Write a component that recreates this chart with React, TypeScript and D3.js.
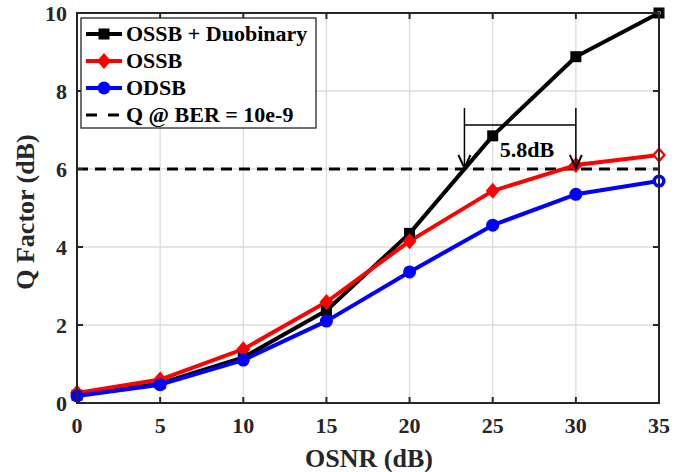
import React, { useEffect, useRef } from 'react';
import * as d3 from 'd3';

const osnr = [0, 5, 10, 15, 20, 25, 30, 35];
const ossbDuo = [0.2, 0.5, 1.17, 2.37, 4.35, 6.85, 8.88, 10.0];
const ossb = [0.26, 0.6, 1.38, 2.59, 4.15, 5.44, 6.1, 6.36];
const odsb = [0.18, 0.47, 1.1, 2.1, 3.36, 4.56, 5.35, 5.69];
const xTicks = [0, 5, 10, 15, 20, 25, 30, 35];
const yTicks = [0, 2, 4, 6, 8, 10];
const qThreshold = 6;
const arrowAt = [23.3, 30];

const series = [
  { name: 'OSSB + Duobinary', values: ossbDuo, color: '#000000', marker: 'square' },
  { name: 'OSSB', values: ossb, color: '#ff0000', marker: 'diamond' },
  { name: 'ODSB', values: odsb, color: '#0000ff', marker: 'circle' },
];

const FONT = '"Liberation Serif", "Times New Roman", serif';

export default function App() {
  const ref = useRef<SVGSVGElement>(null);

  useEffect(() => {
    const svg = d3.select(ref.current);
    svg.selectAll('*').remove();

    const left = 77, right = 659, top = 13, bottom = 403;
    const x = d3.scaleLinear().domain([0, 35]).range([left, right]);
    const y = d3.scaleLinear().domain([0, 10]).range([bottom, top]);

    svg.append('rect').attr('width', 688).attr('height', 472).attr('fill', '#fff');

    // grid
    const grid = svg.append('g').attr('stroke', '#dcdcdc').attr('stroke-width', 1.3);
    xTicks.slice(1, -1).forEach(t => {
      grid.append('line').attr('x1', x(t)).attr('x2', x(t)).attr('y1', top).attr('y2', bottom);
    });
    yTicks.slice(1, -1).forEach(t => {
      grid.append('line').attr('x1', left).attr('x2', right).attr('y1', y(t)).attr('y2', y(t));
    });

    // threshold line
    svg.append('line')
      .attr('x1', left).attr('x2', right)
      .attr('y1', y(qThreshold)).attr('y2', y(qThreshold))
      .attr('stroke', '#000').attr('stroke-width', 3)
      .attr('stroke-dasharray', '11,7');

    // series
    const line = d3.line<number>().x((d, i) => x(osnr[i])).y(d => y(d));
    series.forEach(s => {
      svg.append('path')
        .attr('d', line(s.values))
        .attr('fill', 'none')
        .attr('stroke', s.color)
        .attr('stroke-width', 4)
        .attr('stroke-linejoin', 'round');
    });

    const drawMarker = (g: any, m: string, cx: number, cy: number, color: string, hollow = false) => {
      if (m === 'square') {
        g.append('rect').attr('x', cx - 5.5).attr('y', cy - 5.5).attr('width', 11).attr('height', 11).attr('fill', color);
        if (hollow) g.append('rect').attr('x', cx - 1.5).attr('y', cy - 1.5).attr('width', 3).attr('height', 3).attr('fill', '#fff');
      } else if (m === 'diamond') {
        g.append('path')
          .attr('d', `M${cx},${cy - 8}L${cx + 7},${cy}L${cx},${cy + 8}L${cx - 7},${cy}Z`)
          .attr('fill', color);
        if (hollow) g.append('path')
          .attr('d', `M${cx},${cy - 4.5}L${cx + 4},${cy}L${cx},${cy + 4.5}L${cx - 4},${cy}Z`)
          .attr('fill', '#fff');
      } else {
        g.append('circle').attr('cx', cx).attr('cy', cy).attr('r', 6.5).attr('fill', color);
        if (hollow) g.append('circle').attr('cx', cx).attr('cy', cy).attr('r', 3).attr('fill', '#fff');
      }
    };

    series.forEach(s => {
      s.values.forEach((v, i) =>
        drawMarker(svg, s.marker, x(osnr[i]), y(v), s.color, i === s.values.length - 1));
    });

    // annotation
    const ann = svg.append('g').attr('stroke', '#000').attr('stroke-width', 1.5).attr('fill', 'none');
    const annTop = 108, annBar = 125;
    arrowAt.forEach(a => {
      const ax = x(a);
      ann.append('line').attr('x1', ax).attr('x2', ax).attr('y1', annTop).attr('y2', y(qThreshold) - 1);
      ann.append('path')
        .attr('d', `M${ax - 6},${y(qThreshold) - 14}L${ax},${y(qThreshold) - 1}L${ax + 6},${y(qThreshold) - 14}`)
        .attr('stroke-width', 2);
    });
    ann.append('line').attr('x1', x(arrowAt[0])).attr('x2', x(arrowAt[1])).attr('y1', annBar).attr('y2', annBar);
    svg.append('text')
      .attr('x', 527)
      .attr('y', 157)
      .attr('text-anchor', 'middle')
      .attr('font-family', FONT).attr('font-weight', 'bold').attr('font-size', 22)
      .text('5.8dB');

    // axes box + ticks
    const axisColor = '#262626';
    svg.append('rect')
      .attr('x', left).attr('y', top).attr('width', right - left).attr('height', bottom - top)
      .attr('fill', 'none').attr('stroke', axisColor).attr('stroke-width', 2);
    const ticks = svg.append('g').attr('stroke', axisColor).attr('stroke-width', 2);
    xTicks.forEach(t => {
      ticks.append('line').attr('x1', x(t)).attr('x2', x(t)).attr('y1', bottom).attr('y2', bottom - 6);
      ticks.append('line').attr('x1', x(t)).attr('x2', x(t)).attr('y1', top).attr('y2', top + 6);
    });
    yTicks.forEach(t => {
      ticks.append('line').attr('x1', left).attr('x2', left + 6).attr('y1', y(t)).attr('y2', y(t));
      ticks.append('line').attr('x1', right).attr('x2', right - 6).attr('y1', y(t)).attr('y2', y(t));
    });

    const labels = svg.append('g')
      .attr('font-family', FONT).attr('font-weight', 'bold').attr('font-size', 22).attr('fill', axisColor);
    xTicks.forEach(t => {
      labels.append('text').attr('x', x(t)).attr('y', 433).attr('text-anchor', 'middle').text(t);
    });
    yTicks.forEach(t => {
      labels.append('text').attr('x', 67).attr('y', y(t) + 7.5).attr('text-anchor', 'end').text(t);
    });

    svg.append('text')
      .attr('x', 369).attr('y', 467)
      .attr('text-anchor', 'middle')
      .attr('font-family', FONT).attr('font-weight', 'bold').attr('font-size', 26).attr('fill', axisColor)
      .text('OSNR (dB)');
    svg.append('text')
      .attr('transform', `translate(34,212) rotate(-90)`)
      .attr('text-anchor', 'middle')
      .attr('font-family', FONT).attr('font-weight', 'bold').attr('font-size', 26).attr('fill', axisColor)
      .text('Q Factor (dB)');

    // legend
    const lg = svg.append('g');
    lg.append('rect')
      .attr('x', 81).attr('y', 18).attr('width', 235).attr('height', 110)
      .attr('fill', '#fff').attr('stroke', axisColor).attr('stroke-width', 1.3);
    const rows = [...series.map(s => ({ name: s.name, color: s.color, marker: s.marker, dash: false })),
      { name: 'Q @ BER = 10e-9', color: '#000', marker: '', dash: true }];
    rows.forEach((r, i) => {
      const ry = 34 + i * 27;
      lg.append('line')
        .attr('x1', 86).attr('x2', 122).attr('y1', ry).attr('y2', ry)
        .attr('stroke', r.color).attr('stroke-width', r.dash ? 3 : 4)
        .attr('stroke-dasharray', r.dash ? '11,11' : null);
      if (r.marker) drawMarker(lg, r.marker, 104, ry, r.color);
      lg.append('text')
        .attr('x', 126).attr('y', ry + 7)
        .attr('font-family', FONT).attr('font-weight', 'bold').attr('font-size', 22)
        .attr('fill', '#000')
        .text(r.name);
    });
  }, []);

  return (
    <svg ref={ref} width={688} height={472} style={{ position: 'absolute', left: 0, top: 0 }} />
  );
}
